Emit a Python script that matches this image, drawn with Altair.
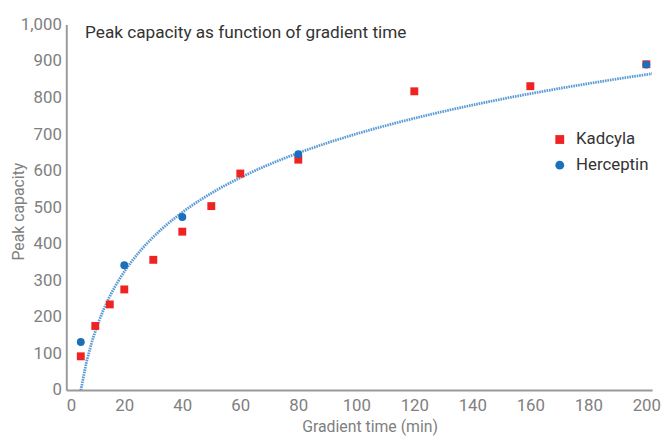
import altair as alt
import pandas as pd

kad_x = [5, 10, 15, 20, 30, 40, 50, 60, 80, 120, 160, 200]
kad_y = [92, 175, 234, 275, 356, 433, 503, 592, 630, 817, 831, 891]
her_x = [5, 20, 40, 80, 200]
her_y = [131, 341, 473, 645, 890]
x_ticks = [0, 20, 40, 60, 80, 100, 120, 140, 160, 180, 200]
y_ticks = [0, 100, 200, 300, 400, 500, 600, 700, 800, 900, 1000]

rows = [{"t": x, "pc": y, "Sample": "Kadcyla"} for x, y in zip(kad_x, kad_y)]
rows += [{"t": x, "pc": y, "Sample": "Herceptin"} for x, y in zip(her_x, her_y)]
df = pd.DataFrame(rows)
tick_df = pd.DataFrame({"t": x_ticks})

LABEL_FONT = "Roboto"
GRAY = "#808080"
AXIS_GRAY = "#9a9a9a"

xscale = alt.Scale(domain=[0, 202], nice=False)
yscale = alt.Scale(domain=[0, 1000], nice=False)

xaxis = alt.Axis(values=x_ticks, title="Gradient time (min)",
                 grid=False, domainColor=AXIS_GRAY, domainWidth=2, ticks=False,
                 labelFontSize=17, labelColor=GRAY, labelFont=LABEL_FONT,
                 titleFont=LABEL_FONT, titleFontSize=16, titleColor=GRAY,
                 titleFontWeight="normal", labelPadding=8, titleX=307, titleY=29)
yaxis = alt.Axis(values=y_ticks, format=",d", title="Peak capacity",
                 grid=False, domainColor=AXIS_GRAY, domainWidth=2, ticks=False,
                 labelFontSize=17, labelColor=GRAY, labelFont=LABEL_FONT,
                 titleFont=LABEL_FONT, titleFontSize=16, titleColor=GRAY,
                 titleFontWeight="normal", labelPadding=5, titleX=-40, titleY=189)

base = alt.Chart(df)

trend = base.transform_filter("datum.Sample == 'Kadcyla'").transform_regression(
    "t", "pc", method="log", extent=[5, 202]
).mark_line(color="#5b9bd5", strokeWidth=2.8, strokeDash=[1.6, 0.9], clip=True)

ticks = alt.Chart(tick_df).mark_rule(color=AXIS_GRAY, strokeWidth=1.5).encode(
    x="t:Q", y=alt.datum(0), y2=alt.datum(11)
)

pts = base.mark_point(filled=True, opacity=1, size=64).encode(
    color=alt.Color("Sample:N", scale=alt.Scale(domain=["Kadcyla", "Herceptin"], range=["#ee2424", "#1c6fba"]),
                    legend=alt.Legend(title=None, orient="none", legendX=491, legendY=108,
                                      labelFontSize=17, labelFont=LABEL_FONT, labelColor="#333333",
                                      symbolSize=80, rowPadding=8, labelOffset=8)),
    shape=alt.Shape("Sample:N", scale=alt.Scale(domain=["Kadcyla", "Herceptin"], range=["square", "circle"]),
                    legend=None),
    order=alt.Order("ord:Q"),
).transform_calculate(ord="datum.Sample == 'Kadcyla' ? 0 : 1")

chart = alt.layer(ticks, trend, pts).encode(
    x=alt.X("t:Q", scale=xscale, axis=xaxis),
    y=alt.Y("pc:Q", scale=yscale, axis=yaxis),
).properties(
    width=593, height=370,
    autosize=alt.AutoSizeParams(type="none"),
    padding={"left": 59, "top": 14, "right": 11, "bottom": 44},
    title=alt.TitleParams("Peak capacity as function of gradient time", anchor="start", frame="group",
                          font="Roboto", fontSize=17.4, fontWeight="normal", color="#333333",
                          dx=19, dy=26, offset=0),
).configure_view(stroke=None)

chart.save("out.html", embed_options={"renderer": "svg", "actions": False})
